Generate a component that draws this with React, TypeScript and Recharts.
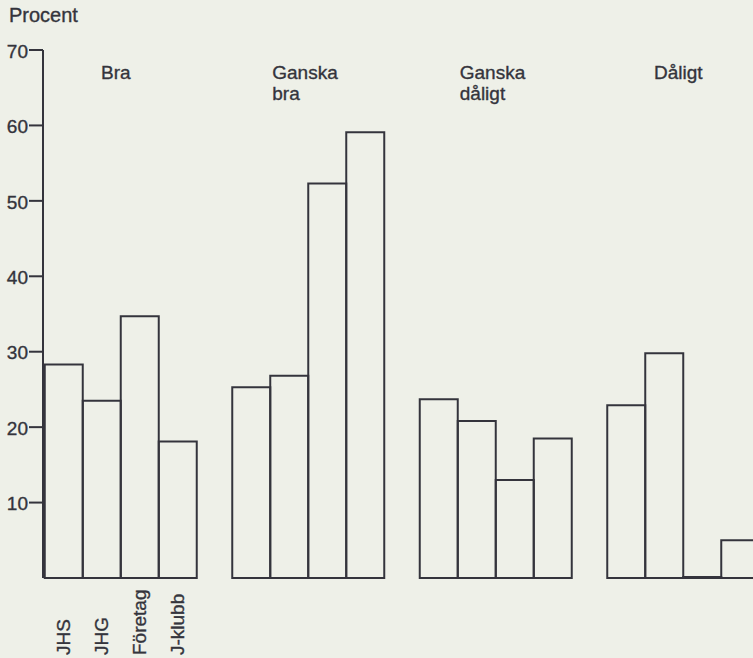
import { BarChart, Bar, XAxis, YAxis, LabelList } from "recharts"

const GROUPS = ["Bra", "Ganska bra", "Ganska dåligt", "Dåligt"]
const SERIES = ["JHS", "JHG", "Företag", "J-klubb"]
const JHS = [28.3, 25.3, 23.7, 22.9]
const JHG = [23.5, 26.8, 20.8, 29.8]
const FORETAG = [34.7, 52.3, 13.0, 0]
const JKLUBB = [18.1, 59.1, 18.5, 5]
const Y_TICKS = [10, 20, 30, 40, 50, 60, 70]

const data = GROUPS.map((g, i) => ({
  group: g,
  JHS: JHS[i],
  JHG: JHG[i],
  "Företag": FORETAG[i],
  "J-klubb": JKLUBB[i],
}))

const INK = "#34343c"
const FONT = "'Liberation Sans', Arial, sans-serif"
// a thin outline makes the text look like the heavier print in the scan
const textStyle = { fontSize: 19, fill: INK, fontFamily: FONT, stroke: INK, strokeWidth: 0.35 }

function GroupTick(props: any) {
  const { x, y, payload } = props
  const words = String(payload.value).split(" ")
  if (words.length === 1) {
    return (
      <text x={x - 4} y={y + 37} textAnchor="middle" {...textStyle}>
        {payload.value}
      </text>
    )
  }
  return (
    <text x={x - 35} y={y + 37} textAnchor="start" {...textStyle}>
      {words.map((w, k) => (
        <tspan key={k} x={x - 35} dy={k === 0 ? 0 : 21}>
          {w}
        </tspan>
      ))}
    </text>
  )
}

const seriesLabel = (name: string) => (props: any) => {
  const { x, width, index } = props
  if (index !== 0) return null
  const cx = x + width / 2 + 6
  const cy = 655
  return (
    <text x={cx} y={cy} transform={`rotate(-90 ${cx} ${cy})`} textAnchor="start" {...textStyle}>
      {name}
    </text>
  )
}

export default function App() {
  return (
    <div
      style={{
        position: "absolute",
        left: 0,
        top: 0,
        width: 753,
        height: 658,
        overflow: "hidden",
        background: "#eef0e8",
        fontFamily: FONT,
      }}
    >
      <div
        style={{
          position: "absolute",
          left: 9,
          top: 4,
          fontSize: 20,
          color: INK,
          WebkitTextStroke: `0.35px ${INK}`,
        }}
      >
        Procent
      </div>
      <div style={{ position: "absolute", left: 0, top: 0 }}>
        <BarChart
          width={795}
          height={658}
          data={data}
          margin={{ top: 49, right: 0, bottom: 80, left: 0 }}
          barCategoryGap="10%"
          barGap={0}
        >
          <XAxis
            dataKey="group"
            orientation="top"
            height={1}
            axisLine={false}
            tickLine={false}
            tick={<GroupTick />}
            padding={{ left: -17, right: 19 }}
            interval={0}
          />
          <YAxis
            domain={[0, 70]}
            ticks={Y_TICKS}
            width={43}
            tickSize={14}
            tickMargin={1}
            axisLine={{ stroke: INK, strokeWidth: 2 }}
            tickLine={{ stroke: INK, strokeWidth: 2 }}
            tick={{ ...textStyle, dy: 1 }}
          />
          {SERIES.map((s) => (
            <Bar
              key={s}
              dataKey={s}
              fill="none"
              stroke={INK}
              strokeWidth={2}
              minPointSize={1}
              isAnimationActive={false}
            >
              <LabelList dataKey={s} content={seriesLabel(s)} />
            </Bar>
          ))}
        </BarChart>
      </div>
    </div>
  )
}
